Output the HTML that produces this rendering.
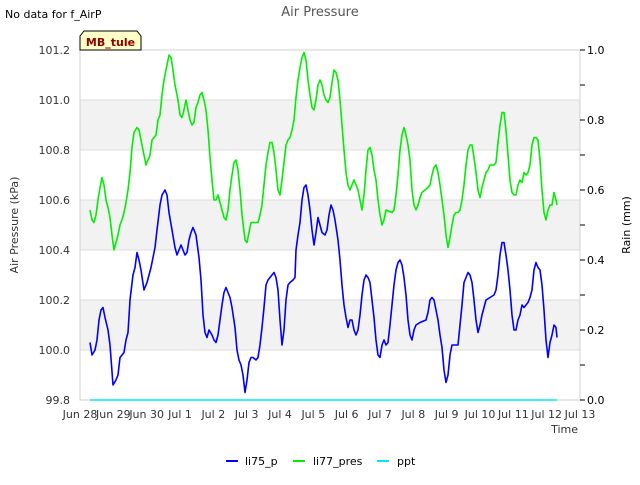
<!DOCTYPE html>
<html><head><meta charset="utf-8"><style>
body{margin:0;background:#fff;font-family:"Liberation Sans","DejaVu Sans",sans-serif}
svg text{font-family:"DejaVu Sans","Liberation Sans",sans-serif}
</style></head><body>
<svg id="chart" width="640" height="480" xmlns="http://www.w3.org/2000/svg">
<rect width="640" height="480" fill="#fff"/>
<text x="5" y="18" font-size="11" fill="#000">No data for f_AirP</text>
<text x="320" y="16" font-size="13" fill="#555" text-anchor="middle">Air Pressure</text>
<g id="plot"></g>
<g>
<path d="M80,50 L80,36 L84,31 L137,31 L141,36 L141,50 Z" fill="#ffffc8" stroke="#000" stroke-width="1"/>
<text x="110.5" y="46" font-size="11" font-weight="bold" fill="#8b0000" text-anchor="middle">MB_tule</text>
</g>
<text transform="translate(18,225) rotate(-90)" font-size="11" fill="#333" text-anchor="middle">Air Pressure (kPa)</text>
<text transform="translate(630,225) rotate(-90)" font-size="11" fill="#000" text-anchor="middle">Rain (mm)</text>
<text x="578" y="433" font-size="11" fill="#333" text-anchor="end">Time</text>
<g>
<g><line x1="226" y1="461" x2="238" y2="461" stroke="#0000ff" stroke-width="2"/><text x="245" y="465" font-size="11">li75_p</text></g>
<g><line x1="293" y1="461" x2="305" y2="461" stroke="#00ee00" stroke-width="2"/><text x="313" y="465" font-size="11">li77_pres</text></g>
<g><line x1="377" y1="461" x2="389" y2="461" stroke="#00e5ff" stroke-width="2"/><text x="397" y="465" font-size="11">ppt</text></g>
</g>
</svg>
<script>
const xTickLabels=["Jun 28","Jun 29","Jun 30","Jul 1","Jul 2","Jul 3","Jul 4","Jul 5","Jul 6","Jul 7","Jul 8","Jul 9","Jul 10","Jul 11","Jul 12","Jul 13"];
const yTicks=[99.8,100.0,100.2,100.4,100.6,100.8,101.0,101.2];
const y2Ticks=[0.0,0.2,0.4,0.6,0.8,1.0];
const li75Days=[0.30,0.36,0.45,0.51,0.57,0.63,0.69,0.75,0.84,0.90,0.99,1.08,1.14,1.20,1.26,1.32,1.38,1.44,1.50,1.59,1.65,1.71,1.77,1.83,1.92,2.01,2.07,2.13,2.19,2.25,2.31,2.40,2.46,2.55,2.61,2.67,2.76,2.85,2.91,2.97,3.03,3.09,3.15,3.21,3.27,3.33,3.39,3.48,3.57,3.63,3.69,3.75,3.81,3.87,3.96,4.02,4.08,4.14,4.20,4.26,4.32,4.38,4.44,4.50,4.56,4.65,4.71,4.77,4.83,4.89,4.95,5.01,5.07,5.13,5.19,5.28,5.34,5.40,5.46,5.52,5.58,5.64,5.70,5.76,5.82,5.88,5.94,6.00,6.06,6.12,6.18,6.24,6.30,6.39,6.45,6.48,6.54,6.60,6.66,6.72,6.78,6.84,6.90,6.96,7.02,7.08,7.14,7.20,7.26,7.35,7.41,7.47,7.53,7.59,7.65,7.74,7.80,7.86,7.92,7.98,8.04,8.10,8.16,8.22,8.28,8.34,8.40,8.46,8.52,8.58,8.64,8.70,8.76,8.82,8.88,8.94,9.00,9.06,9.12,9.18,9.24,9.30,9.36,9.42,9.48,9.54,9.60,9.66,9.72,9.78,9.84,9.90,9.96,10.02,10.08,10.20,10.38,10.44,10.50,10.56,10.62,10.68,10.74,10.80,10.86,10.92,10.98,11.04,11.10,11.16,11.34,11.40,11.46,11.52,11.58,11.64,11.70,11.76,11.82,11.88,11.94,12.00,12.06,12.12,12.18,12.30,12.42,12.48,12.54,12.60,12.66,12.72,12.78,12.84,12.90,12.96,13.02,13.08,13.14,13.20,13.26,13.32,13.44,13.50,13.56,13.62,13.68,13.74,13.80,13.86,13.92,13.98,14.04,14.10,14.16,14.22,14.28,14.31];
const li75Values=[100.03,99.98,100.00,100.04,100.12,100.16,100.17,100.13,100.08,100.02,99.86,99.88,99.90,99.97,99.98,99.99,100.04,100.07,100.20,100.30,100.33,100.39,100.36,100.32,100.24,100.27,100.30,100.33,100.37,100.41,100.48,100.58,100.62,100.64,100.62,100.55,100.48,100.41,100.38,100.40,100.42,100.40,100.38,100.39,100.44,100.47,100.49,100.46,100.37,100.28,100.14,100.07,100.05,100.08,100.06,100.04,100.03,100.06,100.12,100.18,100.23,100.25,100.23,100.21,100.17,100.09,100.00,99.96,99.94,99.90,99.83,99.88,99.95,99.97,99.97,99.96,99.97,100.02,100.09,100.17,100.26,100.28,100.29,100.30,100.31,100.29,100.24,100.12,100.02,100.08,100.20,100.26,100.27,100.28,100.29,100.40,100.46,100.51,100.60,100.65,100.66,100.62,100.56,100.48,100.42,100.47,100.53,100.50,100.47,100.46,100.48,100.54,100.58,100.56,100.52,100.44,100.36,100.26,100.18,100.13,100.09,100.12,100.12,100.08,100.06,100.08,100.14,100.22,100.28,100.30,100.29,100.27,100.20,100.13,100.04,99.98,99.97,100.02,100.04,100.02,100.03,100.10,100.18,100.26,100.32,100.35,100.36,100.34,100.29,100.22,100.12,100.06,100.04,100.08,100.10,100.11,100.12,100.15,100.20,100.21,100.20,100.16,100.12,100.06,100.01,99.92,99.87,99.90,99.98,100.02,100.02,100.10,100.18,100.27,100.29,100.31,100.30,100.27,100.20,100.12,100.07,100.10,100.14,100.17,100.20,100.21,100.22,100.24,100.30,100.38,100.43,100.43,100.38,100.32,100.24,100.14,100.08,100.08,100.12,100.14,100.18,100.17,100.19,100.21,100.24,100.32,100.35,100.33,100.32,100.26,100.16,100.04,99.97,100.03,100.06,100.10,100.09,100.05];
const li77Days=[0.30,0.36,0.42,0.48,0.54,0.60,0.66,0.72,0.78,0.84,0.90,0.96,1.02,1.08,1.14,1.20,1.26,1.32,1.38,1.44,1.50,1.56,1.62,1.71,1.77,1.83,1.92,1.98,2.04,2.10,2.16,2.22,2.28,2.34,2.40,2.46,2.52,2.58,2.67,2.73,2.79,2.85,2.94,3.00,3.06,3.12,3.18,3.24,3.30,3.36,3.42,3.48,3.54,3.60,3.66,3.72,3.78,3.84,3.90,3.96,4.02,4.08,4.14,4.20,4.26,4.32,4.38,4.44,4.50,4.56,4.62,4.68,4.74,4.80,4.86,4.95,5.01,5.07,5.13,5.28,5.34,5.40,5.46,5.52,5.58,5.64,5.70,5.76,5.82,5.88,5.94,6.00,6.06,6.12,6.18,6.24,6.30,6.36,6.42,6.48,6.54,6.60,6.66,6.72,6.78,6.84,6.90,6.96,7.02,7.08,7.14,7.20,7.26,7.32,7.38,7.44,7.50,7.56,7.62,7.68,7.74,7.80,7.86,7.92,7.98,8.04,8.10,8.16,8.22,8.28,8.34,8.40,8.46,8.52,8.58,8.64,8.70,8.76,8.82,8.88,8.94,9.00,9.06,9.12,9.18,9.36,9.42,9.48,9.54,9.60,9.66,9.72,9.78,9.84,9.90,9.96,10.02,10.08,10.14,10.20,10.26,10.44,10.50,10.56,10.62,10.68,10.74,10.80,10.86,10.92,10.98,11.04,11.10,11.16,11.22,11.28,11.34,11.40,11.46,11.52,11.58,11.64,11.70,11.76,11.82,11.88,11.94,12.00,12.06,12.12,12.18,12.24,12.30,12.42,12.48,12.54,12.60,12.66,12.72,12.78,12.84,12.90,12.96,13.02,13.08,13.14,13.20,13.26,13.32,13.38,13.44,13.50,13.56,13.62,13.68,13.74,13.80,13.86,13.92,13.98,14.04,14.10,14.16,14.22,14.28,14.31];
const li77Values=[100.56,100.52,100.51,100.54,100.60,100.65,100.69,100.66,100.60,100.57,100.53,100.46,100.40,100.43,100.46,100.50,100.52,100.55,100.59,100.64,100.71,100.81,100.87,100.89,100.88,100.84,100.78,100.74,100.76,100.78,100.84,100.85,100.86,100.92,100.94,101.02,101.08,101.12,101.18,101.17,101.12,101.06,101.00,100.94,100.93,100.96,101.00,100.96,100.92,100.90,100.91,100.97,100.99,101.02,101.03,101.00,100.96,100.88,100.77,100.68,100.60,100.60,100.62,100.59,100.56,100.53,100.52,100.56,100.64,100.70,100.75,100.76,100.72,100.64,100.54,100.44,100.43,100.47,100.51,100.51,100.51,100.54,100.58,100.66,100.74,100.79,100.83,100.83,100.79,100.72,100.64,100.62,100.68,100.75,100.82,100.84,100.85,100.88,100.92,101.01,101.08,101.13,101.17,101.19,101.16,101.08,101.02,100.97,100.96,101.00,101.06,101.08,101.06,101.02,101.00,100.99,101.01,101.07,101.12,101.11,101.08,101.00,100.90,100.80,100.71,100.66,100.64,100.66,100.68,100.66,100.64,100.60,100.56,100.62,100.72,100.80,100.81,100.78,100.72,100.68,100.60,100.54,100.50,100.52,100.56,100.55,100.56,100.62,100.70,100.80,100.86,100.89,100.86,100.82,100.76,100.64,100.58,100.56,100.58,100.61,100.63,100.65,100.66,100.70,100.73,100.74,100.71,100.66,100.60,100.54,100.46,100.41,100.45,100.50,100.54,100.55,100.55,100.56,100.60,100.66,100.74,100.80,100.82,100.82,100.77,100.71,100.64,100.61,100.65,100.68,100.71,100.72,100.74,100.74,100.75,100.83,100.90,100.95,100.95,100.88,100.78,100.68,100.63,100.62,100.62,100.66,100.68,100.67,100.71,100.70,100.71,100.74,100.82,100.85,100.85,100.84,100.76,100.64,100.55,100.52,100.56,100.58,100.58,100.63,100.60,100.58];
const pptDays=[0.30,14.31];
const pptValues=[0,0];

const NS="http://www.w3.org/2000/svg";
const L=80,R=580,T=50,B=400;
const xS=d=>L+(d/15)*(R-L);
const yS=v=>B-(v-99.8)/(101.2-99.8)*(B-T);
const y2S=v=>B-v*(B-T);
const plot=document.getElementById('plot');
function mk(tag,attrs){const e=document.createElementNS(NS,tag);for(const k in attrs)e.setAttribute(k,attrs[k]);plot.appendChild(e);return e;}
// bands
for(let i=0;i<yTicks.length-1;i++){
  if(i%2===1){
    const b=mk('rect',{x:L,y:yS(yTicks[i+1]),width:R-L,height:yS(yTicks[i])-yS(yTicks[i+1]),fill:'#f2f2f2'});
    
    
  }
}
yTicks.forEach(v=>{
  const g=mk('line',{x1:L,x2:R,y1:yS(v),y2:yS(v),stroke:'#dcdcdc','stroke-width':1});
  
  
  const t=mk('text',{x:L-10,y:yS(v)+4,'font-size':11,fill:'#333','text-anchor':'end'});
  t.textContent=v.toFixed(1);
  
  
});
const fr=mk('rect',{x:L,y:T,width:R-L,height:B-T,fill:'none',stroke:'#d0d0d0','stroke-width':1});


for(let i=0;i<=10;i++){
  const v=i/10;
  const tk=mk('line',{x1:R,x2:R+5,y1:y2S(v),y2:y2S(v),stroke:'#000','stroke-width':1});
  
  
}
y2Ticks.forEach(v=>{
  const t=mk('text',{x:R+7,y:y2S(v)+4,'font-size':11,fill:'#000'});
  t.textContent=v.toFixed(1);
  
  
});
xTickLabels.forEach((s,i)=>{
  const t=mk('text',{x:xS(i),y:B+18,'font-size':11,fill:'#333','text-anchor':'middle'});
  t.textContent=s;
  
  
});
function line(days,vals,sc,color,name){
  const d=days.map((x,i)=>(i?'L':'M')+xS(x).toFixed(1)+','+sc(vals[i]).toFixed(1)).join(' ');
  const p=mk('path',{d:d,fill:'none',stroke:color,'stroke-width':1.6,'stroke-linejoin':'round'});
  
  
}
line(pptDays,pptValues,y2S,'#00e5ff','ppt-line');
line(li77Days,li77Values,yS,'#00ee00','li77-pres-line');
line(li75Days,li75Values,yS,'#0000ff','li75-p-line');
</script>
</body></html>
